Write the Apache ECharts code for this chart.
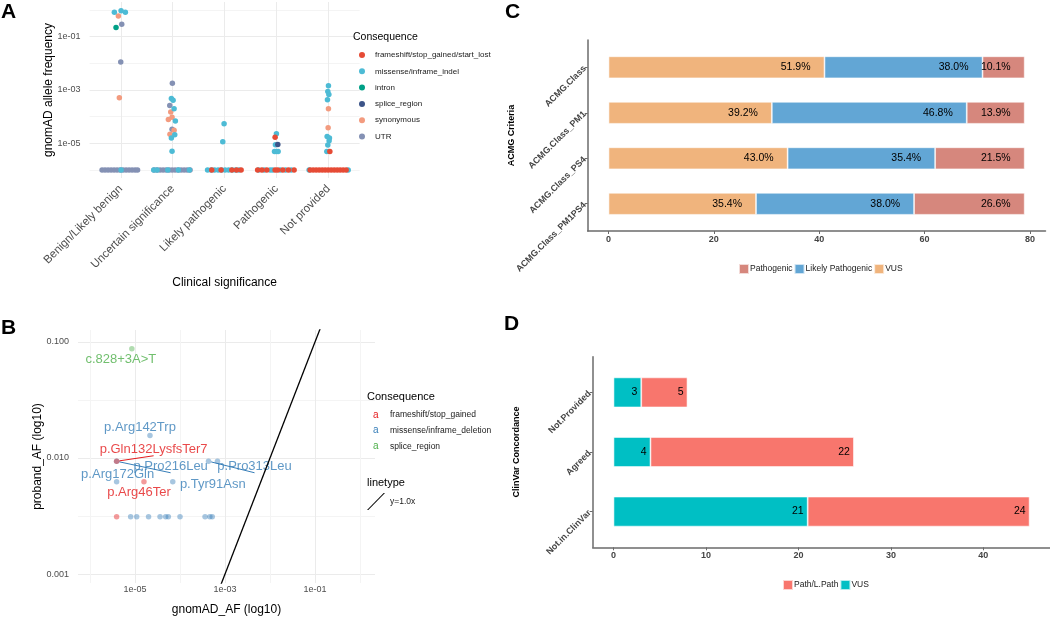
<!DOCTYPE html>
<html>
<head>
<meta charset="utf-8">
<script src="https://cdn.jsdelivr.net/npm/echarts@6/dist/echarts.min.js"></script>
<style>
  html, body { margin: 0; padding: 0; background: #fff; }
  #chart { width: 1050px; height: 619px; }
</style>
</head>
<body>
<div id="chart"></div>
<script>
// ---------- panel A : gnomAD AF by clinical significance ----------
var sigCategories = ['Benign/Likely benign', 'Uncertain significance', 'Likely pathogenic', 'Pathogenic', 'Not provided'];
var aLegend = ['frameshift/stop_gained/start_lost', 'missense/inframe_indel', 'intron', 'splice_region', 'synonymous', 'UTR'];
var aTickLabels = [-5, -3, -1];
// [category position (1..5, with beeswarm spread), allele frequency]
var aUTR = [[1.019, 0.29], [1.0, 0.0112],
  [0.640, 1e-6], [0.697, 1e-6], [0.755, 1e-6], [0.813, 1e-6], [0.871, 1e-6], [0.929, 1e-6], [0.987, 1e-6],
  [1.044, 1e-6], [1.102, 1e-6], [1.160, 1e-6], [1.218, 1e-6], [1.275, 1e-6], [1.324, 1e-6],
  [1.994, 1.8e-3], [1.944, 2.6e-4], [1.988, 3.4e-5],
  [1.642, 1e-6], [1.699, 1e-6], [1.757, 1e-6], [1.815, 1e-6], [1.873, 1e-6], [1.931, 1e-6], [1.988, 1e-6],
  [2.046, 1e-6], [2.104, 1e-6], [2.162, 1e-6], [2.220, 1e-6], [2.277, 1e-6], [2.335, 1e-6]];
var aSynonymous = [[0.954, 0.6], [0.973, 5.1e-4],
  [1.963, 1.5e-4], [1.988, 9.5e-5], [1.917, 7.8e-5], [2.027, 3.1e-5], [1.948, 2.2e-5],
  [5.0, 2.0e-4], [4.994, 3.8e-5]];
var aMissense = [[0.877, 0.82], [1.006, 0.94], [1.089, 0.82], [1.006, 1e-6],
  [1.975, 4.8e-4], [2.008, 4.1e-4], [2.027, 2.0e-4], [2.052, 6.9e-5], [2.040, 2.1e-5], [1.975, 1.6e-5], [1.988, 5e-6],
  [1.636, 1e-6], [1.699, 1e-6], [1.906, 1e-6], [2.110, 1e-6], [2.322, 1e-6],
  [2.99, 5.4e-5], [2.965, 1.15e-5],
  [2.672, 1e-6], [2.740, 1e-6], [2.807, 1e-6], [2.875, 1e-6], [2.942, 1e-6], [3.010, 1e-6], [3.077, 1e-6],
  [3.145, 1e-6], [3.212, 1e-6], [3.279, 1e-6],
  [3.998, 2.3e-5], [3.979, 8.9e-6], [3.961, 4.9e-6], [3.996, 4.9e-6], [4.031, 4.9e-6],
  [3.655, 1e-6], [3.761, 1e-6], [3.877, 1e-6], [3.925, 1e-6], [4.069, 1e-6], [4.175, 1e-6], [4.281, 1e-6],
  [5.0, 1.45e-3], [4.988, 8.7e-4], [5.008, 6.8e-4], [4.981, 4.3e-4], [4.975, 1.8e-5], [5.019, 1.6e-5],
  [5.013, 1.26e-5], [4.988, 8.7e-6], [4.969, 4.9e-6],
  [4.628, 1e-6], [5.380, 1e-6]];
var aIntron = [[0.909, 0.22]];
var aSplice = [[4.025, 9e-6]];
var aFrameshift = [[2.753, 1e-6], [2.933, 1e-6], [3.139, 1e-6], [3.231, 1e-6], [3.318, 1e-6],
  [3.973, 1.7e-5],
  [3.636, 1e-6], [3.717, 1e-6], [3.813, 1e-6], [3.973, 1e-6], [4.021, 1e-6], [4.121, 1e-6], [4.229, 1e-6], [4.339, 1e-6],
  [5.027, 4.9e-6],
  [4.647, 1e-6], [4.705, 1e-6], [4.763, 1e-6], [4.821, 1e-6], [4.879, 1e-6], [4.936, 1e-6], [4.994, 1e-6],
  [5.052, 1e-6], [5.110, 1e-6], [5.168, 1e-6], [5.225, 1e-6], [5.283, 1e-6], [5.341, 1e-6]];

// ---------- panel B : proband AF vs gnomAD AF ----------
// [gnomAD AF, proband AF]
var bFrameshift = [[3.9e-6, 0.009375], [1.58e-5, 0.00625], [3.9e-6, 0.003125]];
var bFrameshiftNames = ['p.Gln132LysfsTer7', 'p.Arg46Ter', ''];
var bMissense = [[2.15e-5, 0.015625], [3.9e-6, 0.009375], [4.3e-4, 0.009375], [6.8e-4, 0.009375],
  [3.9e-6, 0.00625], [6.9e-5, 0.00625],
  [8.0e-6, 0.003125], [1.09e-5, 0.003125], [2.0e-5, 0.003125], [3.6e-5, 0.003125], [4.8e-5, 0.003125],
  [5.5e-5, 0.003125], [1.0e-4, 0.003125], [3.6e-4, 0.003125], [4.6e-4, 0.003125], [5.2e-4, 0.003125]];
var bMissenseNames = ['p.Arg142Trp', 'p.Pro216Leu', 'p.Pro313Leu', '', 'p.Arg172Gln', 'p.Tyr91Asn',
  '', '', '', '', '', '', '', '', '', ''];
var bSplice = [[8.5e-6, 0.0875]];
var bSpliceNames = ['c.828+3A>T'];
var identityAF = [1e-7, 10];
// label placement (px from point) and whether a segment is drawn
var labelNudge = {
  'c.828+3A>T': [-11, 11, false],
  'p.Arg142Trp': [-10, -8, false],
  'p.Gln132LysfsTer7': [37, -12, true],
  'p.Pro216Leu': [54, 5, true],
  'p.Pro313Leu': [46, 5, true],
  'p.Arg172Gln': [1, -7, false],
  'p.Arg46Ter': [-5, 11, false],
  'p.Tyr91Asn': [40, 3, false]
};

// ---------- panel C : ACMG criteria ----------
var acmgCategories = ['ACMG.Class', 'ACMG.Class_PM1', 'ACMG.Class_PS4', 'ACMG.Class_PM1PS4'];
var acmgVUS = [41, 31, 34, 28];
var acmgLikelyPath = [30, 37, 28, 30];
var acmgPath = [8, 11, 17, 21];
var acmgTicks = [0, 20, 40, 60, 80];

// ---------- panel D : ClinVar concordance ----------
var concordCategories = ['Not.Provided', 'Agreed', 'Not.in.ClinVar'];
var concordVUS = [3, 4, 21];
var concordPath = [5, 22, 24];
var concordTicks = [0, 10, 20, 30, 40];

var FONT = '"Liberation Sans", Arial, sans-serif';
var chart = echarts.init(document.getElementById('chart'));

function lg(v) { return Math.log10(v); }
function toLog(pts) { return pts.map(function (p) { return [p[0], lg(p[1])]; }); }
function expLabel(v) { return '1e-' + (-v < 10 ? '0' : '') + (-v); }

function aSeries(name, pts, color) {
  return {
    name: name, type: 'scatter', xAxisIndex: 0, yAxisIndex: 0,
    data: toLog(pts), symbolSize: 5.5,
    itemStyle: { color: color, opacity: 1 }
  };
}

// points drawn half transparent, labels and segments solid
function bSeries(name, pts, names, color, fill) {
  return {
    name: name, type: 'scatter', xAxisIndex: 1, yAxisIndex: 1, symbolSize: 5.5,
    itemStyle: { color: fill },
    label: { show: false, position: 'inside', color: color, fontSize: 13, fontFamily: FONT },
    labelLine: { show: false, lineStyle: { color: color, width: 1 } },
    data: pts.map(function (p, i) {
      var item = { value: [lg(p[0]), lg(p[1])] };
      var n = names[i];
      if (n) {
        var nd = labelNudge[n];
        item.label = { show: true, formatter: n, offset: [nd[0], nd[1]] };
        if (nd[2]) item.labelLine = { show: true };
      }
      return item;
    })
  };
}

var acmgTotal = acmgVUS.map(function (v, i) { return v + acmgLikelyPath[i] + acmgPath[i]; });
function pctLabel(p) { return (p.value / acmgTotal[p.dataIndex] * 100).toFixed(1) + '%'; }

function cBar(name, values, color) {
  return {
    name: name, type: 'bar', stack: 'acmg', xAxisIndex: 2, yAxisIndex: 2, barWidth: 22,
    data: values,
    itemStyle: { color: color, borderColor: 'rgba(255,255,255,0.7)', borderWidth: 0.8 },
    label: { show: true, position: 'insideRight', distance: 14, color: '#000', fontSize: 10.5, fontFamily: FONT, formatter: pctLabel }
  };
}
function dBar(name, values, color) {
  return {
    name: name, type: 'bar', stack: 'concord', xAxisIndex: 3, yAxisIndex: 3, barWidth: 30,
    data: values,
    itemStyle: { color: color, borderColor: 'rgba(255,255,255,0.7)', borderWidth: 0.8 },
    label: { show: true, position: 'insideRight', distance: 4, color: '#000', fontSize: 10.5, fontFamily: FONT }
  };
}

var gridMinor = '#F4F4F4', gridMajor = '#EBEBEB', frameColor = '#6b6b6b';

function frameX(grid, min, max, ticks) {
  return {
    gridIndex: grid, type: 'value', min: min, max: max,
    axisLine: { show: true, onZero: false, lineStyle: { color: frameColor, width: 1.5 } },
    axisTick: { show: true, length: 3, customValues: ticks, lineStyle: { color: frameColor } },
    axisLabel: { customValues: ticks, fontSize: 9, fontWeight: 'bold', color: '#444', margin: 4, fontFamily: FONT },
    splitLine: { show: false }
  };
}
function frameY(grid, max, cats, title) {
  var vals = cats.map(function (c, i) { return i + 1; });
  return {
    gridIndex: grid, type: 'value', min: 0.4, max: max, inverse: true,
    axisLine: { show: true, onZero: false, lineStyle: { color: frameColor, width: 1.5 } },
    axisTick: { show: true, length: 3, customValues: vals, lineStyle: { color: frameColor } },
    axisLabel: {
      customValues: vals, rotate: 45, fontSize: 9, fontWeight: 'bold', color: '#444', margin: 3, fontFamily: FONT,
      formatter: function (v) { return cats[v - 1]; }
    },
    splitLine: { show: false },
    name: title, nameLocation: 'middle', nameGap: 72, nameRotate: 90, nameMoveOverlap: false,
    nameTextStyle: { fontSize: 9, fontWeight: 'bold', color: '#000', fontFamily: FONT }
  };
}

var option = {
  animation: false,
  backgroundColor: '#fff',
  textStyle: { fontFamily: FONT },
  title: [
    { text: 'A', left: 1, top: 2, padding: 0, textStyle: { fontSize: 21, fontWeight: 'bold', color: '#000', fontFamily: FONT } },
    { text: 'B', left: 1, top: 318, padding: 0, textStyle: { fontSize: 21, fontWeight: 'bold', color: '#000', fontFamily: FONT } },
    { text: 'C', left: 505, top: 2, padding: 0, textStyle: { fontSize: 21, fontWeight: 'bold', color: '#000', fontFamily: FONT } },
    { text: 'D', left: 504, top: 314, padding: 0, textStyle: { fontSize: 21, fontWeight: 'bold', color: '#000', fontFamily: FONT } },
    { text: 'Consequence', left: 353, top: 32, padding: 0, textStyle: { fontSize: 10.5, fontWeight: 'normal', color: '#000', fontFamily: FONT } },
    { text: 'Consequence', left: 367, top: 391, padding: 0, textStyle: { fontSize: 11, fontWeight: 'normal', color: '#000', fontFamily: FONT } },
    { text: 'linetype', left: 367, top: 477, padding: 0, textStyle: { fontSize: 11, fontWeight: 'normal', color: '#000', fontFamily: FONT } }
  ],
  legend: [
    {
      data: aLegend, orient: 'vertical', left: 359, top: 50, padding: 0,
      icon: 'circle', itemWidth: 6, itemHeight: 6, itemGap: 6.3, selectedMode: false,
      textStyle: { fontSize: 8, color: '#1a1a1a', lineHeight: 10, padding: [0, 0, 0, 5], fontFamily: FONT }
    },
    {
      data: ['frameshift/stop_gained', 'missense/inframe_deletion', 'splice_region '],
      orient: 'vertical', left: 367, top: 410, padding: 0, icon: 'none', itemWidth: 1, itemHeight: 1, itemGap: 5.7,
      selectedMode: false,
      formatter: function (name) {
        var key = name.indexOf('frameshift') === 0 ? 'r' : (name.indexOf('missense') === 0 ? 'b' : 'g');
        return '{' + key + '|a}{t|' + name.trim() + '}';
      },
      textStyle: {
        fontFamily: FONT,
        rich: {
          r: { color: '#E41A1C', fontSize: 10, width: 17, lineHeight: 11 },
          b: { color: '#377EB8', fontSize: 10, width: 17, lineHeight: 11 },
          g: { color: '#4DAF4A', fontSize: 10, width: 17, lineHeight: 11 },
          t: { color: '#1a1a1a', fontSize: 8.5, lineHeight: 11 }
        }
      }
    },
    {
      data: [{ name: 'y=1.0x', icon: 'path://M0,17L1.3,17L18,0L16.7,0Z' }],
      left: 367, top: 493, padding: 0, itemWidth: 18, itemHeight: 17, selectedMode: false,
      textStyle: { fontSize: 8.5, color: '#1a1a1a', fontFamily: FONT }
    },
    {
      data: ['Pathogenic', 'Likely Pathogenic', 'VUS'], left: 738, top: 263, padding: 0,
      icon: 'rect', itemWidth: 10, itemHeight: 10, itemGap: 1, selectedMode: false,
      textStyle: { fontSize: 8.5, color: '#1a1a1a', padding: [0, 0, 0, -4], fontFamily: FONT }
    },
    {
      data: ['Path/L.Path', 'VUS '], left: 782, top: 579, padding: 0,
      icon: 'rect', itemWidth: 10, itemHeight: 10, itemGap: 1, selectedMode: false,
      textStyle: { fontSize: 8.5, color: '#1a1a1a', padding: [0, 0, 0, -4], fontFamily: FONT }
    }
  ],
  grid: [
    { left: 89.6, top: 2, width: 270, height: 176, outerBoundsMode: 'none' },
    { left: 78, top: 330, width: 297, height: 253, outerBoundsMode: 'none' },
    { left: 587.7, top: 44.55, width: 457.8, height: 182, outerBoundsMode: 'none' },
    { left: 592.7, top: 362.6, width: 457.7, height: 178.8, outerBoundsMode: 'none' },
    { left: 587.7, top: 40, width: 457.8, height: 191, outerBoundsMode: 'none' },
    { left: 592.7, top: 356.7, width: 457.7, height: 190.6, outerBoundsMode: 'none' }
  ],
  xAxis: [
    {
      gridIndex: 0, type: 'value', min: 0.4, max: 5.6,
      axisLine: { show: false, onZero: false },
      axisTick: { show: false, customValues: [1, 2, 3, 4, 5] },
      axisLabel: {
        customValues: [1, 2, 3, 4, 5], rotate: 45, fontSize: 11.5, color: '#4D4D4D', margin: 9, fontFamily: FONT,
        formatter: function (v) { return sigCategories[v - 1]; }
      },
      splitLine: { show: true, lineStyle: { color: gridMajor, width: 1 } },
      name: 'Clinical significance', nameLocation: 'middle', nameGap: 99, nameMoveOverlap: false,
      nameTextStyle: { fontSize: 12, color: '#000', fontFamily: FONT }
    },
    {
      gridIndex: 1, type: 'value', min: -6.267, max: 0.333,
      axisLine: { show: false, onZero: false },
      axisTick: { show: false, customValues: [-6, -5, -4, -3, -2, -1, 0] },
      axisLabel: { customValues: aTickLabels, fontSize: 9, color: '#4D4D4D', margin: 2, fontFamily: FONT, formatter: expLabel },
      splitLine: { show: true, lineStyle: { color: [gridMinor, gridMajor], width: 1 } },
      name: 'gnomAD_AF (log10)', nameLocation: 'middle', nameGap: 21, nameMoveOverlap: false,
      nameTextStyle: { fontSize: 12, color: '#000', fontFamily: FONT }
    },
    { gridIndex: 2, type: 'value', min: -3.95, max: 82.95, show: false },
    { gridIndex: 3, type: 'value', min: -2.25, max: 47.25, show: false },
    frameX(4, -3.95, 82.95, acmgTicks),
    frameX(5, -2.25, 47.25, concordTicks)
  ],
  yAxis: [
    {
      gridIndex: 0, type: 'value', min: -6.3, max: 0.3,
      axisLine: { show: false, onZero: false },
      axisTick: { show: false, customValues: [-6, -5, -4, -3, -2, -1, 0] },
      axisLabel: { customValues: aTickLabels, fontSize: 9, color: '#4D4D4D', margin: 9, fontFamily: FONT, formatter: expLabel },
      splitLine: { show: true, lineStyle: { color: [gridMinor, gridMajor], width: 1 } },
      name: 'gnomAD allele frequency', nameLocation: 'middle', nameGap: 35, nameRotate: 90, nameMoveOverlap: false,
      nameTextStyle: { fontSize: 12, color: '#000', fontFamily: FONT }
    },
    {
      gridIndex: 1, type: 'value', min: -3.077, max: -0.897,
      axisLine: { show: false, onZero: false },
      axisTick: { show: false, customValues: [-3, -2.5, -2, -1.5, -1] },
      axisLabel: {
        customValues: [-3, -2, -1], fontSize: 9, color: '#4D4D4D', margin: 9, fontFamily: FONT,
        formatter: function (v) { return Math.pow(10, v).toFixed(3); }
      },
      splitLine: { show: true, lineStyle: { color: [gridMajor, gridMinor], width: 1 } },
      name: 'proband_AF (log10)', nameLocation: 'middle', nameGap: 34, nameRotate: 90, nameMoveOverlap: false,
      nameTextStyle: { fontSize: 12, color: '#000', fontFamily: FONT }
    },
    { gridIndex: 2, type: 'category', data: acmgCategories, inverse: true, show: false },
    { gridIndex: 3, type: 'category', data: concordCategories, inverse: true, show: false },
    frameY(4, 4.6, acmgCategories, 'ACMG Criteria'),
    frameY(5, 3.6, concordCategories, 'ClinVar Concordance')
  ],
  series: [
    aSeries('UTR', aUTR, '#8491B4'),
    aSeries('synonymous', aSynonymous, '#F39B7F'),
    aSeries('missense/inframe_indel', aMissense, '#4DBBD5'),
    aSeries('intron', aIntron, '#00A087'),
    aSeries('splice_region', aSplice, '#3C5488'),
    aSeries('frameshift/stop_gained/start_lost', aFrameshift, '#E64B35'),

    {
      name: 'y=1.0x', type: 'line', xAxisIndex: 1, yAxisIndex: 1, clip: true, silent: true,
      symbol: 'none', data: identityAF.map(function (v) { return [lg(v), lg(v)]; }),
      lineStyle: { color: '#000', width: 1.3 }, itemStyle: { color: '#000' }
    },
    bSeries('missense/inframe_deletion', bMissense, bMissenseNames, '#377EB8', 'rgba(55,126,184,0.55)'),
    bSeries('frameshift/stop_gained', bFrameshift, bFrameshiftNames, '#E41A1C', 'rgba(228,26,28,0.55)'),
    bSeries('splice_region ', bSplice, bSpliceNames, '#4DAF4A', 'rgba(77,175,74,0.55)'),

    cBar('VUS', acmgVUS, '#F0B47D'),
    cBar('Likely Pathogenic', acmgLikelyPath, '#62A6D5'),
    cBar('Pathogenic', acmgPath, '#D6877D'),

    dBar('VUS ', concordVUS, '#00BFC4'),
    dBar('Path/L.Path', concordPath, '#F8766D')
  ]
};

chart.setOption(option);
</script>
</body>
</html>
